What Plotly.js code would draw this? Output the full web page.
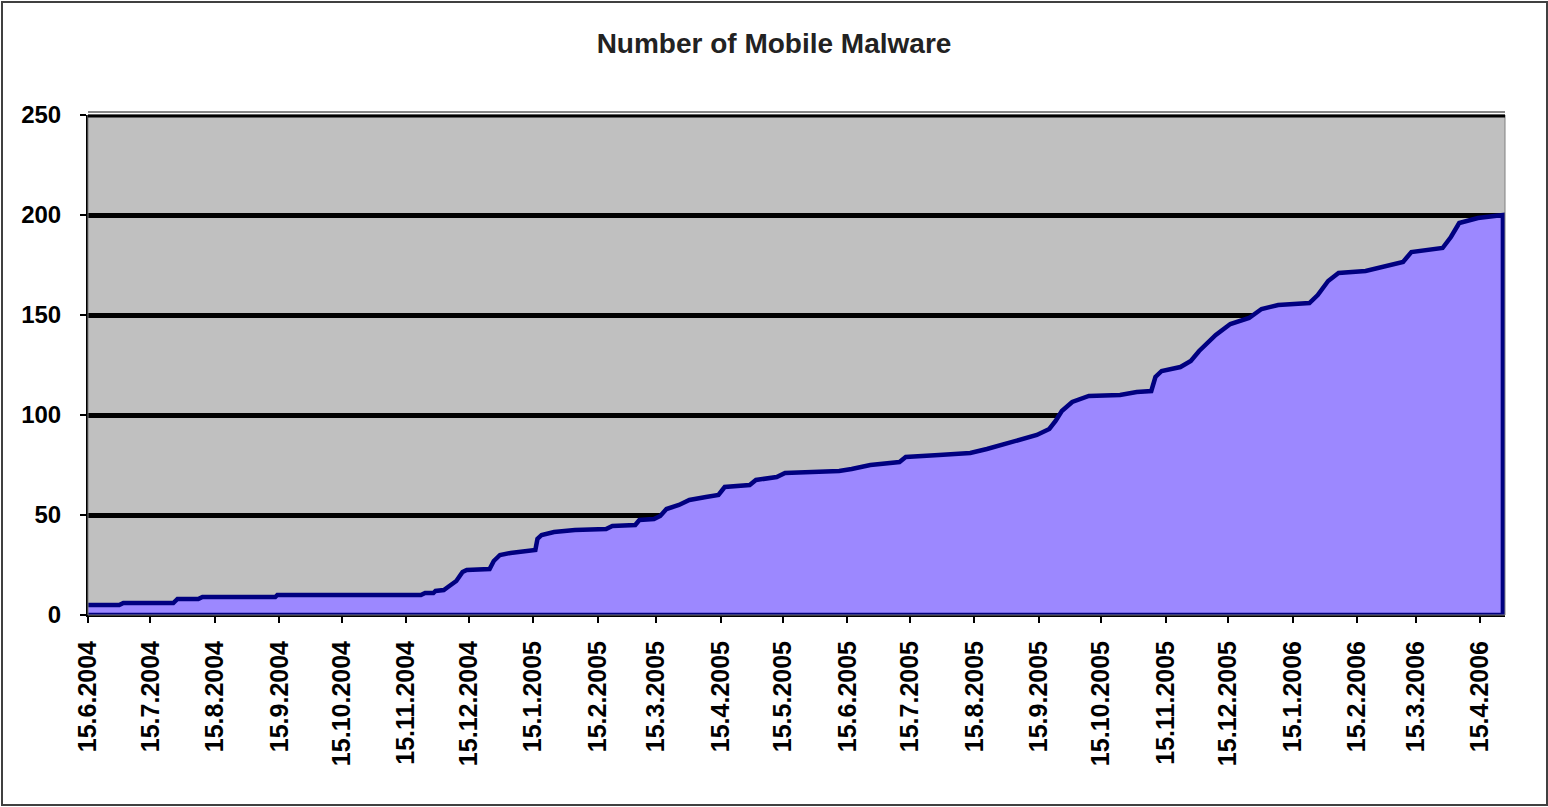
<!DOCTYPE html>
<html>
<head>
<meta charset="utf-8">
<script src="https://cdn.plot.ly/plotly-3.0.1.min.js"></script>
<style>
  html, body { margin: 0; padding: 0; background: #fff; }
  #wrap { position: relative; width: 1548px; height: 807px; }
  #chart { width: 1548px; height: 807px; }
  #frame { position: absolute; left: 1px; top: 1px; width: 1543px; height: 801px;
           border: 2px solid #404040; pointer-events: none; box-sizing: content-box; }
</style>
</head>
<body>
<div id="wrap"><div id="chart"></div><div id="frame"></div></div>
<script>
// Cumulative number of mobile malware
const dates = [
  '2004-06-15','2004-06-30','2004-07-02','2004-07-26','2004-07-28','2004-08-07','2004-08-09',
  '2004-09-13','2004-09-14','2004-11-22','2004-11-24','2004-11-28','2004-11-29','2004-12-03',
  '2004-12-05','2004-12-09','2004-12-12','2004-12-14','2004-12-25','2004-12-27','2004-12-30',
  '2005-01-04','2005-01-16','2005-01-17','2005-01-19','2005-01-25','2005-02-04','2005-02-19',
  '2005-02-22','2005-03-05','2005-03-07','2005-03-14','2005-03-17','2005-03-20','2005-03-26',
  '2005-03-31','2005-04-08','2005-04-14','2005-04-17','2005-04-29','2005-05-02','2005-05-12',
  '2005-05-16','2005-05-28','2005-06-11','2005-06-17','2005-06-26','2005-07-10','2005-07-13',
  '2005-07-29','2005-08-13','2005-08-21','2005-08-28','2005-09-06','2005-09-14','2005-09-20',
  '2005-09-23','2005-09-26','2005-10-01','2005-10-09','2005-10-24','2005-11-01','2005-11-08',
  '2005-11-10','2005-11-13','2005-11-22','2005-11-27','2005-12-01','2005-12-09','2005-12-16',
  '2005-12-25','2005-12-31','2006-01-08','2006-01-23','2006-01-27','2006-02-01','2006-02-06',
  '2006-02-19','2006-02-28','2006-03-09','2006-03-13','2006-03-28','2006-04-01','2006-04-05',
  '2006-04-14','2006-04-26'
];
const malware = [
  5,5,6,6,8,8,9,
  9,10,10,11,11,12,12.5,
  14,17,21.5,22.5,23,27,30,
  31,32.5,38,40,41.5,42.5,43,
  44.5,45,47.5,48,49.5,53,55,
  57.5,59,60,64,65,67.5,69,
  71,71.5,72,73,75,76.5,79,
  80,81,83,85,88,90,93,
  97,102,106.5,109.5,110,111.5,112,
  119,122,124,127,132,140,145.5,
  148.5,153,155,156,160,167,171,
  172,174,176.5,181.5,183.5,189,196,
  198.5,200
];
const tickDates = [
  '2004-06-15','2004-07-15','2004-08-15','2004-09-15','2004-10-15','2004-11-15','2004-12-15',
  '2005-01-15','2005-02-15','2005-03-15','2005-04-15','2005-05-15','2005-06-15','2005-07-15',
  '2005-08-15','2005-09-15','2005-10-15','2005-11-15','2005-12-15','2006-01-15','2006-02-15',
  '2006-03-15','2006-04-15'
];
const tickLabels = [
  '15.6.2004','15.7.2004','15.8.2004','15.9.2004','15.10.2004','15.11.2004','15.12.2004',
  '15.1.2005','15.2.2005','15.3.2005','15.4.2005','15.5.2005','15.6.2005','15.7.2005',
  '15.8.2005','15.9.2005','15.10.2005','15.11.2005','15.12.2005','15.1.2006','15.2.2006',
  '15.3.2006','15.4.2006'
];
const yTicks = [0, 50, 100, 150, 200, 250];
const yMax = 250;

// Closed area polygon (data curve + baseline back to start), like Excel's bordered area
const polyX = dates.concat([dates[dates.length - 1], dates[0]]);
const polyY = malware.concat([0, 0]);

const fontFam = 'Liberation Sans, Arial, sans-serif';

const trace = {
  x: polyX, y: polyY, type: 'scatter', mode: 'lines',
  fill: 'toself', fillcolor: '#9C88FF',
  line: { color: '#000080', width: 4.5, shape: 'linear' },
  hoverinfo: 'skip', showlegend: false
};

const layout = {
  width: 1548, height: 807,
  margin: { l: 88, r: 43, t: 115, b: 192 },
  paper_bgcolor: '#ffffff',
  plot_bgcolor: '#C0C0C0',
  title: {
    text: 'Number of Mobile Malware',
    xref: 'container', x: 0.5, xanchor: 'center',
    yref: 'container', y: 0.947, yanchor: 'middle',
    font: { family: fontFam, size: 28, color: '#222222', weight: 'bold' }
  },
  xaxis: {
    type: 'date',
    range: ['2004-06-15', '2006-04-27'],
    tickmode: 'array', tickvals: tickDates, ticktext: tickLabels,
    tickangle: -90,
    ticks: 'outside', ticklen: 6, tickwidth: 2, tickcolor: '#000',
    ticklabelstandoff: 8,
    showgrid: false, zeroline: false,
    showline: true, linecolor: '#000', linewidth: 2,
    tickfont: { family: fontFam, size: 25, color: '#000', weight: 'bold' },
    fixedrange: true
  },
  yaxis: {
    range: [0, yMax],
    tickmode: 'array', tickvals: yTicks,
    ticks: 'outside', ticklen: 6, tickwidth: 2, tickcolor: '#000',
    ticklabelstandoff: 14,
    showgrid: true, gridcolor: '#000', gridwidth: 5,
    zeroline: false,
    showline: true, linecolor: '#000', linewidth: 2,
    tickfont: { family: fontFam, size: 24, color: '#000', weight: 'bold' },
    fixedrange: true
  },
  shapes: [
    { type: 'rect', xref: 'paper', yref: 'paper', x0: 0, x1: 1, y0: 0, y1: 1,
      line: { color: '#808080', width: 1 }, layer: 'above' },
    { type: 'line', xref: 'paper', yref: 'paper', x0: 0, x1: 1, y0: 0.998, y1: 0.998,
      line: { color: '#000', width: 3 }, layer: 'above' },
    { type: 'line', xref: 'paper', yref: 'paper', x0: 0, x1: 1, y0: 1.006, y1: 1.006,
      line: { color: '#606060', width: 1.5 }, layer: 'above' }
  ]
};

Plotly.newPlot('chart', [trace], layout, { displayModeBar: false, staticPlot: true });
</script>
</body>
</html>
